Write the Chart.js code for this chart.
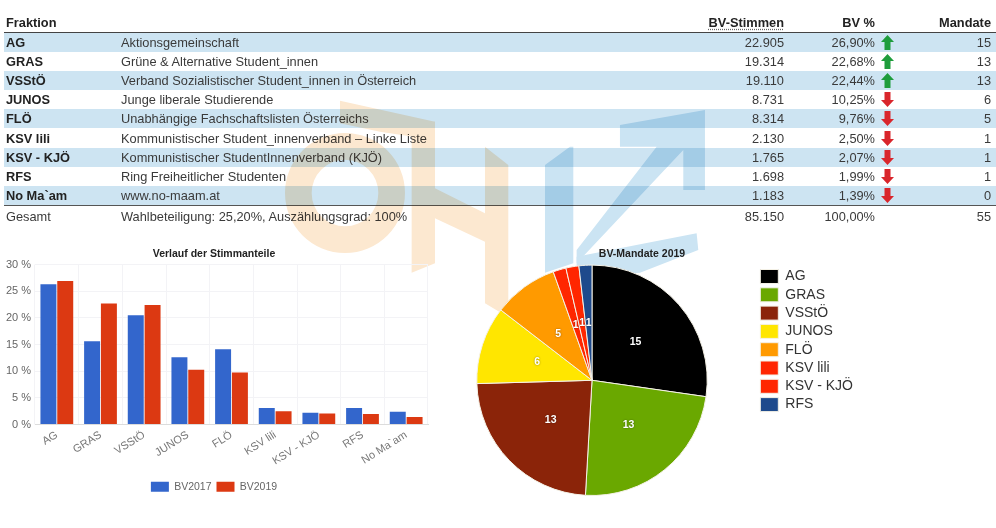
<!DOCTYPE html>
<html lang="de">
<head>
<meta charset="utf-8">
<title>BV-Wahl 2019</title>
<script src="https://cdn.jsdelivr.net/npm/chart.js@4"></script>
<style>
  html, body { margin: 0; width: 996px; height: 528px; overflow: hidden; background: #fff; }
  body { position: relative; font-family: "Liberation Sans", Arial, sans-serif; color: #3a3a3a; }
  table { position: absolute; left: 4px; top: 12px; width: 992px; border-collapse: collapse; table-layout: fixed; font-size: 12.8px; }
  th, td { padding: 0 5px 0 2px; height: 19.1px; line-height: 19px; white-space: nowrap; text-align: left; }
  thead th { color: #222; height: 20px; border-bottom: 1.5px solid #444; }
  tbody td:first-child { font-weight: bold; color: #222; }
  tbody tr:nth-child(odd) td { background: #cde4f2; }
  tfoot td { height: 21px; border-top: 1.5px solid #555; }
  .num { text-align: right; }
  .dotted { text-decoration: underline dotted #666; text-underline-offset: 2px; }
  .arrow { position: absolute; margin: 2px 0 0 6px; }
  #watermark { position: absolute; left: 0; top: 0; mix-blend-mode: multiply; pointer-events: none; }
  canvas { position: absolute; }
  #chartBars { left: 0; top: 235px; }
  #chartPie { left: 428px; top: 235px; }
</style>
</head>
<body>

<table>
  <colgroup>
    <col style="width:115px"><col style="width:520px"><col style="width:150px"><col style="width:91px"><col style="width:116px">
  </colgroup>
  <thead>
    <tr><th>Fraktion</th><th></th><th class="num"><span class="dotted">BV-Stimmen</span></th><th class="num">BV %</th><th class="num">Mandate</th></tr>
  </thead>
  <tbody id="rows"></tbody>
  <tfoot>
    <tr><td>Gesamt</td><td>Wahlbeteiligung: 25,20%, Auszählungsgrad: 100%</td><td class="num">85.150</td><td class="num">100,00%</td><td class="num">55</td></tr>
  </tfoot>
</table>

<!-- OH logo behind the table -->
<svg id="watermark" width="996" height="528">
  <g transform="translate(280 90) scale(.3333)">
    <g fill="#fce8d0">
      <path fill-rule="evenodd" d="M15 309a180 180 0 1 0 360 0a180 180 0 1 0 -360 0zM95 309a100 100 0 1 0 200 0a100 100 0 1 0 -200 0z"/>
      <path d="M180 32L465 95V150L300 125L180 100z"/>
      <path d="M395 100L465 95V520L395 548z"/>
      <path d="M465 295L615 370V455L465 385z"/>
      <path d="M615 170L685 225V682L615 640z"/>
    </g>
    <g fill="#cbe4f3">
      <path d="M795 225L870 170H880V520L795 548z"/>
      <path d="M1020 105L1275 60V300H1210V180L890 520V480L1130 170H1020z"/>
      <path d="M890 500L1250 430L1255 480L1080 548L890 560z"/>
    </g>
  </g>
</svg>

<canvas id="chartBars" width="440" height="270"></canvas>
<canvas id="chartPie" width="435" height="270"></canvas>

<script>
'use strict';

/* ─── DATA ───────────────────────────────────────────────── */
const FRAKTIONEN = ['AG', 'GRAS', 'VSStÖ', 'JUNOS', 'FLÖ', 'KSV lili', 'KSV - KJÖ', 'RFS', 'No Ma`am'];
const NAMEN = [
  'Aktionsgemeinschaft',
  'Grüne & Alternative Student_innen',
  'Verband Sozialistischer Student_innen in Österreich',
  'Junge liberale Studierende',
  'Unabhängige Fachschaftslisten Österreichs',
  'Kommunistischer Student_innenverband – Linke Liste',
  'Kommunistischer StudentInnenverband (KJÖ)',
  'Ring Freiheitlicher Studenten',
  'www.no-maam.at',
];
const STIMMEN  = ['22.905', '19.314', '19.110', '8.731', '8.314', '2.130', '1.765', '1.698', '1.183'];
const PROZENT  = ['26,90%', '22,68%', '22,44%', '10,25%', '9,76%', '2,50%', '2,07%', '1,99%', '1,39%'];
const TREND    = ['up', 'up', 'up', 'down', 'down', 'down', 'down', 'down', 'down'];
const MANDATE  = [15, 13, 13, 6, 5, 1, 1, 1, 0];

const BAR_LABELS = ['AG', 'GRAS', 'VSStÖ', 'JUNOS', 'FLÖ', 'KSV lili', 'KSV - KJÖ', 'RFS', 'No Ma`am'];
const BV2017 = [26.3, 15.6, 20.5, 12.6, 14.1, 3.1, 2.2, 3.1, 2.4];
const BV2019 = [26.9, 22.68, 22.44, 10.25, 9.76, 2.5, 2.07, 1.99, 1.39];

const PIE_LABELS = ['AG', 'GRAS', 'VSStÖ', 'JUNOS', 'FLÖ', 'KSV lili', 'KSV - KJÖ', 'RFS'];
const PIE_VALUES = [15, 13, 13, 6, 5, 1, 1, 1];
const PIE_COLORS = ['#000000', '#6aa800', '#8b2409', '#ffe600', '#ff9a00', '#ff2600', '#ff2600', '#1e4a8c'];

const FONT = '"Liberation Sans", Arial, sans-serif';

/* ─── TABLE ──────────────────────────────────────────────── */
function trendArrow(dir) {
  const color = dir === 'up' ? '#1f9d3c' : '#d9262c';
  const shape = dir === 'up' ? 'M6.5 0L13 7H9.5V15H3.5V7H0z' : 'M3.5 0H9.5V8H13L6.5 15L0 8H3.5z';
  return `<svg class="arrow" width="13" height="15"><path d="${shape}" fill="${color}"/></svg>`;
}

document.getElementById('rows').innerHTML = FRAKTIONEN.map((f, i) => `
  <tr>
    <td>${f}</td>
    <td>${NAMEN[i]}</td>
    <td class="num">${STIMMEN[i]}</td>
    <td class="num">${PROZENT[i]}${trendArrow(TREND[i])}</td>
    <td class="num">${MANDATE[i]}</td>
  </tr>
`).join('');

/* ─── BAR CHART ──────────────────────────────────────────── */
new Chart(document.getElementById('chartBars'), {
  type: 'bar',
  data: {
    labels: BAR_LABELS,
    datasets: [
      { label: 'BV2017', data: BV2017, backgroundColor: '#3366cc' },
      { label: 'BV2019', data: BV2019, backgroundColor: '#dc3912' },
    ],
  },
  options: {
    responsive: false,
    animation: false,
    categoryPercentage: 0.77,
    barPercentage: 0.95,
    layout: { padding: { right: 12, bottom: 3 } },
    plugins: {
      title: {
        display: true,
        text: 'Verlauf der Stimmanteile',
        color: '#222',
        font: { family: FONT, size: 10.5, weight: 'bold' },
        padding: { top: 13, bottom: 4 },
      },
      legend: {
        position: 'bottom',
        labels: {
          boxWidth: 18,
          boxHeight: 10,
          color: '#666',
          font: { family: FONT, size: 10.5 },
          padding: 5,
        },
      },
      tooltip: { enabled: false },
    },
    scales: {
      x: {
        afterFit: scale => { scale.height = 52; },
        grid: { color: '#f3f3f6', tickLength: 0 },
        border: { color: '#dcdcdc' },
        ticks: { color: '#777', font: { family: FONT, size: 11 }, maxRotation: 32, minRotation: 32, autoSkip: false, padding: 4 },
      },
      y: {
        min: 0,
        max: 30,
        afterFit: scale => { scale.width = 35; },
        grid: { color: '#f3f3f6', tickLength: 0 },
        border: { display: false },
        ticks: { stepSize: 5, color: '#666', font: { family: FONT, size: 11 }, padding: 4, callback: v => `${v} %` },
      },
    },
  },
});

/* ─── PIE CHART ──────────────────────────────────────────── */
const sliceLabels = {
  id: 'sliceLabels',
  afterDatasetsDraw(chart) {
    const { ctx } = chart;
    ctx.save();
    ctx.font = `bold 10.5px ${FONT}`;
    ctx.textAlign = 'center';
    ctx.textBaseline = 'middle';
    ctx.fillStyle = '#fff';
    ctx.shadowColor = 'rgba(0,0,0,.45)';
    ctx.shadowBlur = 2;
    chart.getDatasetMeta(0).data.forEach((arc, i) => {
      const pos = arc.tooltipPosition();
      ctx.fillText(PIE_VALUES[i], pos.x, pos.y);
    });
    ctx.restore();
  },
};

// title sits right of the pie's centre in the original
const shiftTitle = {
  id: 'shiftTitle',
  afterLayout(chart) {
    chart.titleBlock.left += 50;
    chart.titleBlock.right += 50;
  },
};

new Chart(document.getElementById('chartPie'), {
  type: 'pie',
  plugins: [sliceLabels, shiftTitle],
  data: {
    labels: PIE_LABELS,
    datasets: [{
      data: PIE_VALUES,
      backgroundColor: PIE_COLORS,
      borderColor: '#f4f1e6',
      borderWidth: 1,
    }],
  },
  options: {
    responsive: false,
    animation: false,
    layout: { padding: { bottom: 9 } },
    plugins: {
      title: {
        display: true,
        fullSize: false,
        text: 'BV-Mandate 2019',
        color: '#222',
        font: { family: FONT, size: 10.5, weight: 'bold' },
        padding: { top: 13, bottom: 4 },
      },
      legend: {
        position: 'right',
        align: 'start',
        // blank legend title only pushes the rows down to the pie's top edge
        title: { display: true, text: ' ', font: { size: 1 }, padding: { top: 29, bottom: 0 } },
        labels: {
          boxWidth: 18,
          boxHeight: 14,
          color: '#333',
          font: { family: FONT, size: 14 },
          padding: 4.3,
        },
      },
      tooltip: { enabled: false },
    },
  },
});
</script>
</body>
</html>
